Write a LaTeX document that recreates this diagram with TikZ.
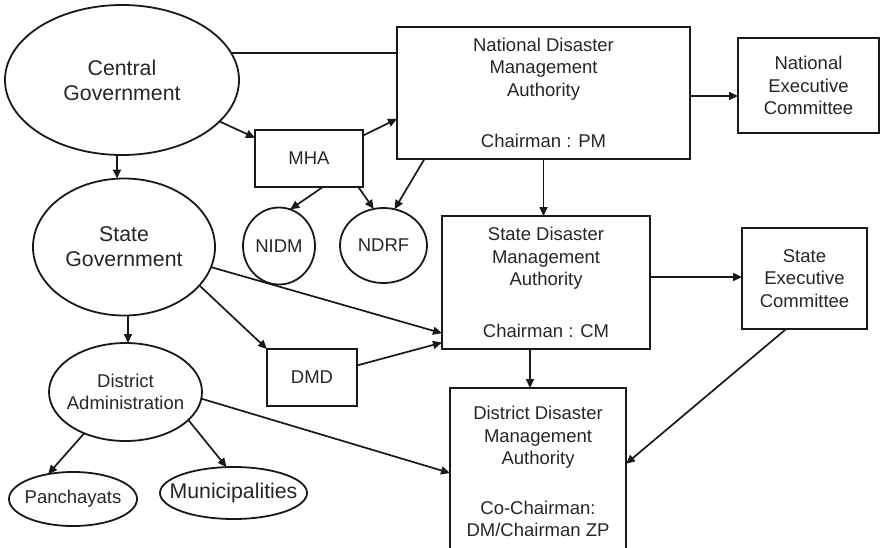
\documentclass[tikz,border=0pt]{standalone}
\usepackage{fontspec}
\setmainfont{Liberation Sans}
\usetikzlibrary{shapes.geometric,arrows.meta,calc}
\begin{document}
\begin{tikzpicture}[x=1pt,y=-1pt,
  every node/.style={text=black!85, align=center, outer sep=0pt},
  nfont/.style={font=\fontsize{18.5pt}{22.5pt}\selectfont},
  bfont/.style={font=\fontsize{21.3pt}{25pt}\selectfont},
  boxnode/.style={draw=black!90, line width=1.8pt, rectangle, inner sep=2pt, nfont},
  ellnode/.style={draw=black!90, line width=1.8pt, ellipse, inner sep=-15pt},
  arr/.style={draw=black!90, line width=1.7pt, -{Triangle[length=9pt,width=8pt]}},
  plainline/.style={draw=black!90, line width=1.7pt}
]
\useasboundingbox (0,0) rectangle (881,547);

% ellipses
\node[ellnode, bfont, minimum width=234pt, minimum height=150pt] (cg) at (122,80) {Central\\Government};
\node[ellnode, bfont, minimum width=182pt, minimum height=137pt] (sg) at (124,247) {State\\Government};
\node[ellnode, nfont, minimum width=72pt, minimum height=77pt] (nidm) at (279,246) {NIDM};
\node[ellnode, nfont, minimum width=87pt, minimum height=75pt] (ndrf) at (383.5,245.5) {NDRF};
\node[ellnode, nfont, minimum width=153pt, minimum height=98pt] (da) at (125.5,392) {District\\Administration};
\node[ellnode, nfont, minimum width=128pt, minimum height=54pt] (pan) at (73,499) {Panchayats};
\node[ellnode, bfont, minimum width=147pt, minimum height=52pt] (mun) at (233.5,493) {Municipalities};

% boxes
\node[boxnode, minimum width=108pt, minimum height=57pt] (mha) at (309,158.5) {MHA};
\node[boxnode, minimum width=293pt, minimum height=132pt] (ndma) at (543.5,93) {National Disaster\\Management\\Authority\\[29pt]Chairman : PM};
\node[boxnode, minimum width=141pt, minimum height=95pt] (nec) at (808.5,85.5) {National\\Executive\\Committee};
\node[boxnode, minimum width=208pt, minimum height=133pt] (sdma) at (546,282.5) {State Disaster\\Management\\Authority\\[29pt]Chairman : CM};
\node[boxnode, minimum width=125pt, minimum height=101pt] (sec) at (804.5,278.5) {State\\Executive\\Committee};
\node[boxnode, minimum width=90pt, minimum height=57pt] (dmd) at (312,377.5) {DMD};
\node[boxnode, minimum width=176pt, minimum height=167pt] (ddma) at (538,471.5) {District Disaster\\Management\\Authority\\[27pt]Co-Chairman:\\DM/Chairman ZP};

% connectors
\draw[plainline] (cg.14.7) -- (cg.14.7 -| ndma.west);
\draw[arr] (cg.-23.7) -- (mha.159);
\draw[arr] ([xshift=-5pt]cg.south) -- ([xshift=-7pt]sg.north);
\draw[arr] (mha.23.5) -- (ndma.190);
\draw[arr] (mha.-64) -- (nidm.73);
\draw[arr] (mha.-30.7) -- (ndrf.105);
\draw[arr] (ndma.209.7) -- (ndrf.73.4);
\draw[arr] (ndma.south) -- (ndma.south |- sdma.north);
\draw[arr] ([yshift=-3pt]ndma.east) -- ([yshift=-3pt]ndma.east -| nec.west);
\draw[arr] (sg.-13.7) -- (sdma.206.6);
\draw[arr] (sg.-27.8) -- (dmd.north west);
\draw[arr] ([xshift=4pt]sg.south) -- ([xshift=2.5pt]da.north);
\draw[arr] (dmd.15.5) -- (sdma.210);
\draw[arr] ([yshift=5.5pt]sdma.east) -- ([yshift=5.5pt]sdma.east -| sec.west);
\draw[arr] ([xshift=-16pt]sdma.south) -- ([xshift=-16pt]sdma.south |- ddma.north);
\draw[arr] (sec.250.9) -- (ddma.5.5);
\draw[arr] (da.-5.9) -- (ddma.181);
\draw[arr] (da.225.3) -- (pan.135);
\draw[arr] (da.-24.5) -- (mun.105.5);
\end{tikzpicture}
\end{document}
